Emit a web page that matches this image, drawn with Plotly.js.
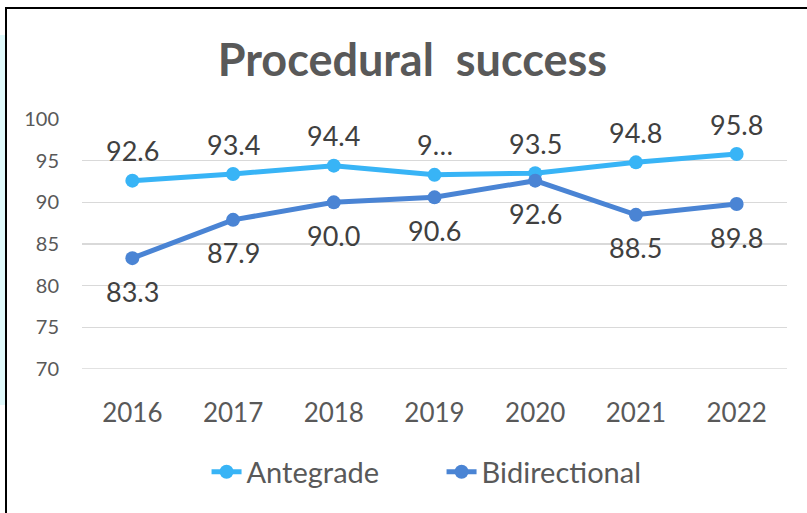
<!DOCTYPE html>
<html>
<head>
<meta charset="utf-8">
<script src="https://cdn.plot.ly/plotly-3.0.1.min.js"></script>
<style>
  html, body { margin: 0; padding: 0; background: #ffffff; overflow: hidden; }
  #wrap { position: relative; width: 807px; height: 513px; overflow: hidden; }
  #strip { position: absolute; left: 0; top: 35px; width: 5px; height: 370px; background: #dff9fb; }
  #frame { position: absolute; left: 5px; top: 7px; width: 900px; height: 600px; border: 2px solid #000; box-sizing: border-box; pointer-events: none; z-index: 2; }
  #chart { position: absolute; left: 0; top: 0; width: 807px; height: 513px; }
</style>
</head>
<body>
<div id="wrap">
  <div id="strip"></div>
  <div id="chart"></div>
  <div id="frame"></div>
</div>
<script>
const years = ['2016', '2017', '2018', '2019', '2020', '2021', '2022'];
const antegrade = [92.6, 93.4, 94.4, 93.3, 93.5, 94.8, 95.8];
const bidirectional = [83.3, 87.9, 90.0, 90.6, 92.6, 88.5, 89.8];
const antegradeLabels = ['92.6', '93.4', '94.4', '9…', '93.5', '94.8', '95.8'];
const bidirectionalLabels = ['83.3', '87.9', '90.0', '90.6', '92.6', '88.5', '89.8'];
const yTicks = [70, 75, 80, 85, 90, 95, 100];

const FONT = 'Lato, "Open Sans", sans-serif';
const cAnte = '#38b4f6';
const cBi = '#4a84d4';

const traces = [
  { x: years, y: antegrade, name: 'Antegrade', type: 'scatter', mode: 'lines+markers',
    line: { color: cAnte, width: 5 }, marker: { color: cAnte, size: 14 } },
  { x: years, y: bidirectional, name: 'Bidirectional', type: 'scatter', mode: 'lines+markers',
    line: { color: cBi, width: 5 }, marker: { color: cBi, size: 14 } }
];

const annotations = [];
years.forEach((yr, i) => {
  annotations.push({ xref: 'x', yref: 'y', x: i, y: antegrade[i], text: antegradeLabels[i], showarrow: false,
    yshift: 30, font: { family: FONT, size: 27, color: '#404040' } });
  annotations.push({ xref: 'x', yref: 'y', x: i, y: bidirectional[i], text: bidirectionalLabels[i], showarrow: false,
    yshift: -33, font: { family: FONT, size: 27, color: '#404040' } });
});

const layout = {
  width: 807, height: 513,
  paper_bgcolor: 'rgba(0,0,0,0)', plot_bgcolor: 'rgba(0,0,0,0)',
  margin: { l: 82, r: 20, t: 119, b: 144 },
  font: { family: FONT, color: '#595959' },
  title: { text: '<b>Procedural  success</b>', x: 0.511, xanchor: 'center', xref: 'container',
    y: 0.883, yanchor: 'middle', yref: 'container',
    font: { family: FONT, size: 45, color: '#595959' } },
  xaxis: { type: 'category', range: [-0.5, 6.5], showgrid: false, zeroline: false, showline: false,
    ticks: '', ticklabelstandoff: 26, tickfont: { family: FONT, size: 26, color: '#595959' } },
  yaxis: { range: [70, 100], tickvals: yTicks, showgrid: true, gridcolor: '#d9d9d9', gridwidth: 1.5,
    zeroline: false, showline: false, ticks: '', ticklabelstandoff: 22,
    tickfont: { family: FONT, size: 20, color: '#595959' } },
  shapes: [{ type: 'line', layer: 'below', xref: 'paper', x0: 0, x1: 1, yref: 'y', y0: yTicks[0], y1: yTicks[0],
    line: { color: '#d9d9d9', width: 1.5 } }],
  showlegend: true,
  legend: { orientation: 'h', x: 0.51, xanchor: 'center', xref: 'paper', y: 0.08, yanchor: 'middle', yref: 'container',
    font: { family: FONT, size: 29, color: '#595959' }, itemwidth: 30, entrywidth: 190 },
  annotations: annotations
};

Plotly.newPlot('chart', traces, layout, { displayModeBar: false, staticPlot: true });
</script>
</body>
</html>
